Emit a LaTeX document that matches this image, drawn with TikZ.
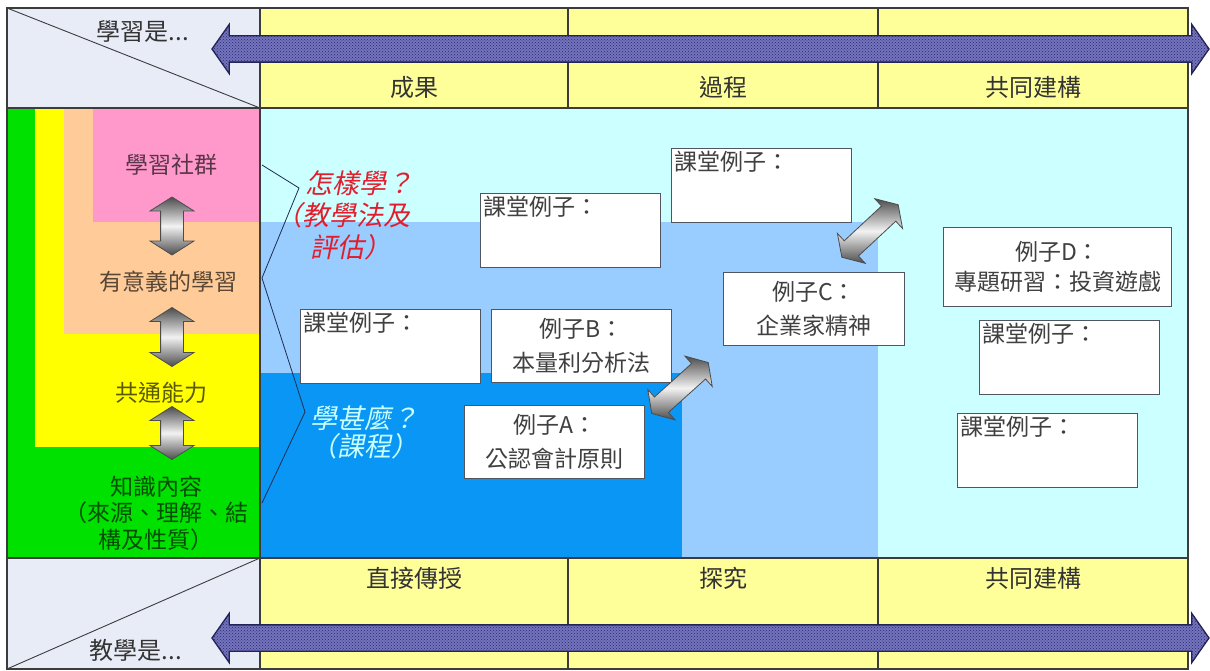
\documentclass[tikz,border=0pt]{standalone}
\usepackage{fontspec}
\setmainfont{Noto Sans CJK TC}
\newfontfamily\slantfont[FakeSlant=0.2]{Noto Sans CJK TC}
\usetikzlibrary{calc,shapes.arrows,patterns}

\definecolor{cornergray}{RGB}{232,236,247}
\definecolor{bandyellow}{RGB}{255,255,153}
\definecolor{skycyan}{RGB}{204,255,255}
\definecolor{paleblue}{RGB}{153,204,255}
\definecolor{deepblue}{RGB}{10,150,245}
\definecolor{kgreen}{RGB}{0,225,0}
\definecolor{kyellow}{RGB}{255,255,0}
\definecolor{kpeach}{RGB}{255,204,153}
\definecolor{kpink}{RGB}{255,153,204}
\definecolor{framegray}{RGB}{60,60,60}
\definecolor{boxline}{RGB}{80,85,95}
\definecolor{arrowfill}{RGB}{115,115,190}
\definecolor{arrowdot}{RGB}{40,40,105}
\definecolor{arrowline}{RGB}{35,35,85}
\definecolor{howred}{RGB}{225,30,45}
\definecolor{whatcyan}{RGB}{200,255,255}
\definecolor{bracketline}{RGB}{30,45,80}

\newcommand*{\fs}[2]{\fontsize{#1}{#2}\selectfont}
\newcommand*{\BandLabels}[2]{% #1 = y, #2 = list of x/text
  \foreach \x/\txt in {#2} {
    \node [bandtext] (band-\x-#1) at (\x,#1) {\txt};
  }%
}

\begin{document}
\begin{tikzpicture}[x=1pt, y=-1pt,
  frame/.style={draw=framegray, line width=1.2pt},
  bandtext/.style={text=black!80, font=\fs{24}{24}},
  sidetext/.style={text=black, text opacity=0.65, font=\fs{23}{26.5}, align=center},
  exbox/.style={draw=boxline, fill=white, line width=1.1pt, inner sep=0pt,
    anchor=north west, font=\fs{23}{34}, text=black!75, align=center},
  classbox/.style={exbox, minimum width=180pt, minimum height=74pt,
    label={[font=\fs{23}{23}, text=black!75, anchor=north west, inner sep=3pt]north west:課堂例子：}},
  greyarrow/.style={double arrow, draw=black!70, line width=0.8pt,
    top color=black!70, bottom color=black!70, middle color=black!5,
    inner xsep=0pt, inner ysep=11pt, double arrow head extend=10.5pt,
    double arrow tip angle=115},
  bigarrow/.style={double arrow, draw=arrowline, line width=1.3pt,
    preaction={fill=arrowfill}, pattern=crosshatch dots, pattern color=arrowdot,
    inner xsep=0pt, inner ysep=12.5pt, double arrow head extend=11.5pt,
    double arrow tip angle=110}]
  \useasboundingbox (0,0) rectangle (1210,671);

  % bands
  \fill[cornergray] (7,8) rectangle (260,108) (7,558) rectangle (260,669);
  \fill[bandyellow] (260,8) rectangle (1188,108) (260,558) rectangle (1188,669);
  % left column
  \fill[kgreen] (7,108) rectangle (260,558);
  \fill[kyellow] (35,108) rectangle (260,447);
  \fill[kpeach] (64,108) rectangle (260,334);
  \fill[kpink] (93,108) rectangle (260,222);
  % main area
  \fill[skycyan] (260,108) rectangle (1188,558);
  \fill[paleblue] (260,222) rectangle (878,558);
  \fill[deepblue] (260,373) rectangle (682,558);

  % grid
  \draw[frame] (7,8) rectangle (1188,669);
  \draw[frame] (7,108) -- (1188,108) (7,558) -- (1188,558) (260,8) -- (260,669);
  \foreach \x in {568,878}
    \draw[frame] (\x,8) -- (\x,108) (\x,558) -- (\x,669);
  \draw[framegray, line width=0.9pt] (7,8) -- (260,108) (7,669) -- (260,558);

  \node[bandtext] (learnis) at (143,32) {學習是...};
  \node[bandtext] (teachis) at (136,650) {教學是...};
  \BandLabels{87}{414/成果, 723/過程, 1033/共同建構}
  \BandLabels{578}{414/直接傳授, 723/探究, 1033/共同建構}

  \node[bigarrow, minimum height=997pt] (learnarrow) at (710.5,49) {};
  \node[bigarrow, minimum height=997pt] (teacharrow) at (710.5,638) {};

  % left column labels
  \node[sidetext] (comm) at (171,165) {學習社群};
  \node[sidetext] (mean) at (168,282) {有意義的學習};
  \node[sidetext] (common) at (161,393) {共通能力};
  \node[sidetext] (know) at (156,513) {知識內容\\（來源、理解、結\\構及性質）};
  \node[greyarrow, rotate=90, minimum height=58pt] (up1) at (172,226) {};
  \node[greyarrow, rotate=90, minimum height=59pt] (up2) at (172,337) {};
  \node[greyarrow, rotate=90, minimum height=53pt] (up3) at (172,433) {};

  % how / what
  \draw[bracketline, line width=0.8pt]
    (262,165) -- (299,188) -- (262,278) -- (305,412) -- (262,503);
  \node[text=howred, font=\slantfont\fs{27}{32}, align=left, anchor=west, inner sep=0pt]
    (how) at (305,215) {怎樣學？\\\hspace*{-1.1em}（教學法及\\\hspace*{.2em}評估）};
  \node[text=whatcyan, font=\slantfont\fs{27}{28}, align=center, inner sep=0pt]
    (what) at (364,432) {學甚麼？\\（課程）};

  % example boxes
  \foreach \x/\y/\n in {480/193/1, 671/148/2, 300/309/3, 979/320/4, 957/413/5}
    \node[classbox] (class\n) at (\x,\y) {};
  \node[exbox, minimum width=180pt, minimum height=73pt] (exA) at (464,405) {例子A：\\公認會計原則};
  \node[exbox, minimum width=180pt, minimum height=73pt] (exB) at (491,309) {例子B：\\本量利分析法};
  \node[exbox, minimum width=181pt, minimum height=73pt] (exC) at (723,272) {例子C：\\企業家精神};
  \node[exbox, minimum width=228pt, minimum height=79pt, font=\fs{23}{30}] (exD) at (943,227) {例子D：\\專題研習：投資遊戲};

  \node[greyarrow, rotate=42, inner ysep=10pt, double arrow head extend=10pt, minimum height=76pt] (linkBC) at (680,388) {};
  \node[greyarrow, rotate=43, inner ysep=10pt, double arrow head extend=10pt, minimum height=77pt] (linkC) at (870,231) {};
\end{tikzpicture}
\end{document}
